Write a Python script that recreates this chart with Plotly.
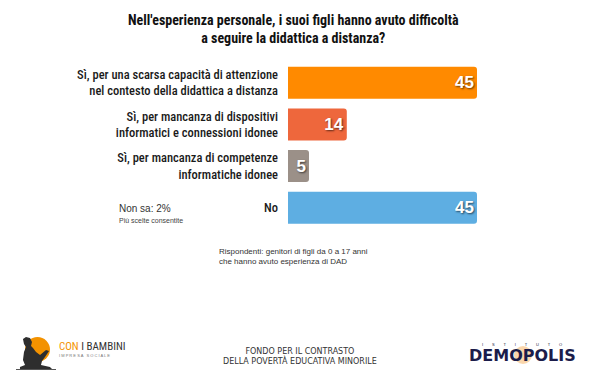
import plotly.graph_objects as go

categories = [
    "Sì, per una scarsa capacità di attenzione<br>nel contesto della didattica a distanza",
    "Sì, per mancanza di dispositivi<br>informatici e connessioni idonee",
    "Sì, per mancanza di competenze<br>informatiche idonee",
    "No",
]
values = [45, 14, 5, 45]
colors = ["#FF8A00", "#EE673C", "#9B9088", "#5EAEE2"]

title_text = "Nell'esperienza personale, i suoi figli hanno avuto difficoltà<br>a seguire la didattica a distanza?"
non_sa = "Non sa: 2%"
piu_scelte = "Più scelte consentite"
note_text = "Rispondenti: genitori di figli da 0 a 17 anni<br>che hanno avuto esperienza di DAD"
footer_text = "FONDO PER IL CONTRASTO<br>DELLA POVERTÀ EDUCATIVA MINORILE"

W, H = 600, 384
def py(px):
    return 1 - px / H

COND = "Roboto Condensed, Noto Sans Condensed, sans-serif"
ARIAL = "Liberation Sans, Arial, sans-serif"

fig = go.Figure()
fig.add_trace(go.Bar(
    x=values, y=categories, orientation="h",
    marker=dict(color=colors, cornerradius=3, line=dict(width=0)),
    width=0.77,
    text=[str(v) for v in values],
    textposition="inside", insidetextanchor="end",
    textfont=dict(family=ARIAL, size=17, color="white",
                  weight="bold", shadow="1px 1px 2px rgba(0,0,0,0.6)"),
    cliponaxis=False, hoverinfo="skip",
))

fig.update_layout(
    width=W, height=H,
    margin=dict(l=0, r=0, t=0, b=0),
    paper_bgcolor="white", plot_bgcolor="white",
    showlegend=False,
    xaxis=dict(domain=[288 / W, 477 / W], range=[0, 45], visible=False, fixedrange=True),
    yaxis=dict(domain=[py(228.5), py(62)], autorange="reversed", showgrid=False,
               zeroline=False, showline=False, ticks="", ticklabelstandoff=9,
               tickfont=dict(family=COND, size=12.5, color="#1a1a1a", weight=500),
               fixedrange=True),
)

ann = []
ann.append(dict(x=293 / W, y=py(29), xref="paper", yref="paper", text="<b>" + title_text + "</b>",
                showarrow=False, xanchor="center", yanchor="middle", align="center",
                font=dict(family=COND, size=14, color="#111111")))
ann.append(dict(x=117 / W, y=py(208), xref="paper", yref="paper", text=non_sa,
                showarrow=False, xanchor="left", yanchor="middle",
                font=dict(family=ARIAL, size=10, color="#333333")))
ann.append(dict(x=117 / W, y=py(220), xref="paper", yref="paper", text=piu_scelte,
                showarrow=False, xanchor="left", yanchor="middle",
                font=dict(family=ARIAL, size=7, color="#444444")))
ann.append(dict(x=217 / W, y=py(256.5), xref="paper", yref="paper", text=note_text,
                showarrow=False, xanchor="left", yanchor="middle", align="left",
                font=dict(family=ARIAL, size=8, color="#333333")))
ann.append(dict(x=300 / W, y=py(356), xref="paper", yref="paper", text=footer_text,
                showarrow=False, xanchor="center", yanchor="middle", align="center",
                font=dict(family="DejaVu Sans, sans-serif", size=8, color="#333333")))
# CON I BAMBINI logo text
ann.append(dict(x=57 / W, y=py(346), xref="paper", yref="paper",
                text="<span style='color:#F39200'>CON</span> I BAMBINI",
                showarrow=False, xanchor="left", yanchor="middle",
                font=dict(family=COND, size=11, color="#333333")))
ann.append(dict(x=57 / W, y=py(355), xref="paper", yref="paper",
                text="I M P R E S A   S O C I A L E",
                showarrow=False, xanchor="left", yanchor="middle",
                font=dict(family=ARIAL, size=4, color="#777777")))
# DEMOPOLIS logo text
ann.append(dict(x=522 / W, y=py(344.5), xref="paper", yref="paper",
                text="I        S        T        I        T        U        T        O",
                showarrow=False, xanchor="center", yanchor="middle",
                font=dict(family=ARIAL, size=4, color="#1a1a40")))
ann.append(dict(x=522 / W, y=py(355), xref="paper", yref="paper",
                text="<b>DEMOPOLIS</b>",
                showarrow=False, xanchor="center", yanchor="middle",
                font=dict(family="DejaVu Sans, sans-serif", size=16, color="#1b1c4a")))
fig.update_layout(annotations=ann)

def to_paper(path):
    out = []
    toks = path.split()
    i = 0
    while i < len(toks):
        t = toks[i]
        if t in ("M", "L"):
            out.append(f"{t} {float(toks[i + 1]) / W:.4f} {py(float(toks[i + 2])):.4f}")
            i += 3
        else:
            out.append(t)
            i += 1
    return " ".join(out)

shapes = []
# sun circle
shapes.append(dict(type="circle", xref="paper", yref="paper",
                   x0=25 / W, x1=50 / W, y0=py(362), y1=py(337),
                   fillcolor="#F39200", line=dict(width=0), layer="below"))
# child silhouette (rough)
sil = ("M 20 369 L 52 369 L 50 367 L 41 365 L 42 361 L 45 357 L 49 351 L 46 350 L 40 355 "
       "L 36 352 L 33 348 L 31 346 L 32 342 L 30 338 L 26 337 L 23 339 L 24 344 L 26 347 "
       "L 24 352 L 23 360 L 25 365 L 20 367 Z")
shapes.append(dict(type="path", xref="paper", yref="paper", path=to_paper(sil),
                   fillcolor="#2e2e2e", line=dict(width=0)))
shapes.append(dict(type="line", xref="paper", yref="paper", x0=16 / W, x1=56 / W,
                   y0=py(369.5), y1=py(369.5), line=dict(color="#555555", width=1)))
# Demopolis orange glow behind the O
shapes.append(dict(type="circle", xref="paper", yref="paper",
                   x0=514 / W, x1=532 / W, y0=py(364), y1=py(346),
                   fillcolor="rgba(245,165,70,0.45)", line=dict(width=0), layer="below"))
fig.update_layout(shapes=shapes)

fig.write_html("out.html", config={"displayModeBar": False},
               post_script="document.body.style.margin='0';")
